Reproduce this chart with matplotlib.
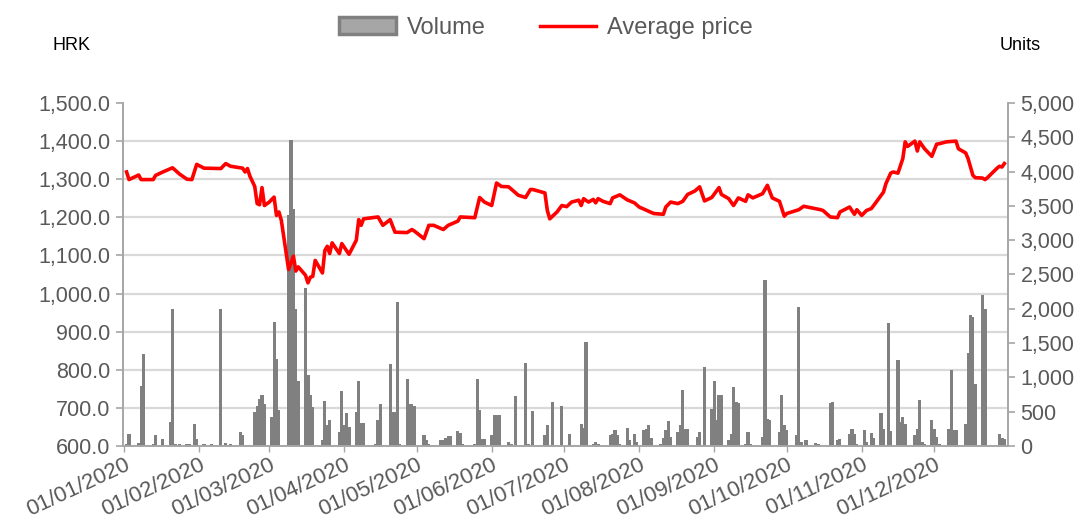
import matplotlib
matplotlib.use("Agg")
import matplotlib.pyplot as plt
import matplotlib.dates as mdates
from matplotlib.patches import Patch
from matplotlib.lines import Line2D
from matplotlib.ticker import FixedLocator, FuncFormatter
import numpy as np
import pandas as pd

plt.rcParams["font.family"] = ["Liberation Sans", "DejaVu Sans"]

# ---- data (2020) ----
price_days = [
    "01-02", "01-03", "01-07", "01-08", "01-13", "01-14", "01-17", "01-21", "01-24", "01-27",
    "01-29", "01-31", "02-03", "02-10", "02-12", "02-14", "02-19", "02-20", "02-21", "02-22",
    "02-24", "02-25", "02-26", "02-27", "02-28", "03-01", "03-03", "03-04", "03-05", "03-06",
    "03-09", "03-11", "03-12", "03-13", "03-16", "03-17", "03-18", "03-19", "03-20", "03-23",
    "03-24", "03-25", "03-26", "03-27", "03-30", "03-31", "04-03", "04-06", "04-07", "04-08",
    "04-09", "04-15", "04-17", "04-20", "04-22", "04-27", "04-29", "04-30", "05-04", "05-06",
    "05-08", "05-12", "05-14", "05-18", "05-19", "05-25", "05-27", "05-29", "06-01", "06-03",
    "06-05", "06-08", "06-10", "06-12", "06-15", "06-17", "06-18", "06-23", "06-24", "06-25",
    "06-28", "06-30", "07-02", "07-04", "07-07", "07-08", "07-09", "07-11", "07-13", "07-14",
    "07-15", "07-17", "07-20", "07-21", "07-24", "07-27", "07-30", "08-01", "08-07", "08-11",
    "08-12", "08-14", "08-17", "08-19", "08-21", "08-24", "08-26", "08-28", "08-31", "09-03",
    "09-04", "09-07", "09-09", "09-11", "09-14", "09-15", "09-17", "09-21", "09-23", "09-25",
    "09-28", "09-30", "10-01", "10-03", "10-06", "10-08", "10-15", "10-16", "10-19", "10-22",
    "10-23", "10-27", "10-29", "10-30", "11-01", "11-03", "11-05", "11-07", "11-10", "11-11",
    "11-13", "11-14", "11-16", "11-18", "11-19", "11-20", "11-23", "11-24", "11-25", "11-27",
    "11-30", "12-02", "12-03", "12-06", "12-10", "12-11", "12-14", "12-15", "12-17", "12-18",
    "12-21", "12-22", "12-23", "12-27", "12-28", "12-29", "12-30",
]
avg_price = [
    1319, 1299, 1311, 1299, 1299, 1310, 1319, 1330, 1313, 1300,
    1299, 1339, 1329, 1328, 1341, 1334, 1329, 1319, 1328, 1308,
    1281, 1236, 1233, 1278, 1231, 1240, 1253, 1205, 1214, 1192,
    1063, 1098, 1059, 1070, 1048, 1028, 1043, 1045, 1087, 1054,
    1113, 1124, 1105, 1133, 1105, 1131, 1103, 1140, 1194, 1179,
    1196, 1201, 1179, 1194, 1161, 1160, 1168, 1164, 1144, 1179,
    1179, 1168, 1179, 1190, 1201, 1199, 1252, 1240, 1231, 1290,
    1281, 1280, 1269, 1258, 1252, 1273, 1273, 1264, 1218, 1196,
    1214, 1231, 1228, 1240, 1245, 1231, 1249, 1240, 1247, 1238,
    1249, 1242, 1236, 1251, 1259, 1246, 1238, 1227, 1210, 1208,
    1227, 1240, 1236, 1242, 1260, 1269, 1280, 1243, 1252, 1278,
    1260, 1249, 1231, 1251, 1242, 1259, 1251, 1262, 1284, 1251,
    1242, 1203, 1210, 1214, 1220, 1229, 1220, 1218, 1201, 1199,
    1214, 1227, 1208, 1220, 1205, 1218, 1223, 1240, 1266, 1288,
    1316, 1319, 1316, 1354, 1398, 1386, 1400, 1374, 1398, 1380,
    1360, 1392, 1393, 1398, 1400, 1380, 1369, 1354, 1310, 1304,
    1303, 1299, 1304, 1329, 1334, 1332, 1341,
]

volume_days = [
    "01-02", "01-03", "01-07", "01-08", "01-09", "01-13", "01-14", "01-17", "01-20", "01-21",
    "01-22", "01-24", "01-27", "01-28", "01-30", "01-31", "02-03", "02-06", "02-07", "02-10",
    "02-12", "02-14", "02-18", "02-19", "02-24", "02-25", "02-26", "02-27", "02-28", "03-02",
    "03-03", "03-04", "03-05", "03-09", "03-10", "03-11", "03-12", "03-13", "03-16", "03-17",
    "03-18", "03-19", "03-23", "03-24", "03-25", "03-26", "03-30", "03-31", "04-01", "04-02",
    "04-03", "04-06", "04-07", "04-08", "04-09", "04-14", "04-15", "04-16", "04-20", "04-21",
    "04-22", "04-23", "04-24", "04-27", "04-28", "04-29", "04-30", "05-04", "05-05", "05-06",
    "05-07", "05-11", "05-12", "05-13", "05-14", "05-15", "05-18", "05-19", "05-20", "05-25",
    "05-26", "05-27", "05-28", "05-29", "06-01", "06-02", "06-03", "06-04", "06-08", "06-09",
    "06-11", "06-15", "06-16", "06-18", "06-23", "06-24", "06-26", "06-30", "07-03", "07-08",
    "07-09", "07-10", "07-13", "07-14", "07-15", "07-20", "07-21", "07-22", "07-23", "07-24",
    "07-27", "07-28", "07-30", "07-31", "08-03", "08-04", "08-05", "08-06", "08-10", "08-11",
    "08-12", "08-13", "08-14", "08-17", "08-18", "08-19", "08-20", "08-21", "08-25", "08-26",
    "08-28", "08-31", "09-01", "09-02", "09-03", "09-04", "09-07", "09-08", "09-09", "09-10",
    "09-11", "09-14", "09-15", "09-16", "09-21", "09-22", "09-23", "09-24", "09-28", "09-29",
    "09-30", "10-01", "10-05", "10-06", "10-07", "10-09", "10-13", "10-14", "10-19", "10-20",
    "10-22", "10-23", "10-27", "10-28", "10-29", "10-30", "11-02", "11-03", "11-05", "11-06",
    "11-09", "11-10", "11-12", "11-13", "11-16", "11-17", "11-18", "11-19", "11-23", "11-24",
    "11-25", "11-26", "11-27", "11-30", "12-01", "12-02", "12-03", "12-07", "12-08", "12-09",
    "12-10", "12-14", "12-15", "12-16", "12-17", "12-18", "12-21", "12-22", "12-28", "12-29",
    "12-30",
]
volume = [
    35, 180, 45, 870, 1346, 35, 155, 107, 350, 2002,
    35, 35, 30, 30, 325, 107, 30, 30, 20, 2002,
    49, 24, 204, 165, 496, 578, 690, 739, 607, 423,
    1808, 1273, 530, 3362, 4465, 3460, 2002, 943, 2308, 1030,
    748, 568, 83, 656, 300, 384, 204, 802, 301, 481,
    277, 496, 943, 335, 335, 24, 374, 607, 1190, 496,
    496, 2099, 34, 981, 607, 607, 578, 165, 83, 34,
    20, 83, 92, 117, 141, 146, 214, 194, 24, 34,
    981, 520, 107, 107, 165, 447, 447, 447, 58, 24,
    724, 1215, 34, 510, 155, 301, 641, 578, 170, 325,
    267, 1516, 34, 58, 34, 165, 180, 228, 155, 34,
    267, 83, 180, 58, 228, 253, 301, 121, 34, 121,
    228, 364, 131, 204, 301, 811, 253, 253, 131, 204,
    1145, 544, 943, 384, 748, 748, 83, 180, 860, 641,
    632, 34, 204, 34, 131, 2415, 398, 374, 204, 739,
    301, 228, 155, 2026, 58, 92, 44, 24, 627, 641,
    92, 107, 180, 253, 180, 34, 238, 58, 194, 117,
    486, 253, 1793, 219, 1249, 350, 423, 316, 155, 253,
    675, 58, 34, 374, 253, 131, 34, 253, 1115, 228,
    228, 325, 1356, 1905, 1880, 909, 2196, 2002, 180, 117,
    107,
]

price_x = pd.to_datetime(["2020-" + d for d in price_days])
vol_x = pd.to_datetime(["2020-" + d for d in volume_days])
month_ticks = pd.date_range("2020-01-01", periods=12, freq="MS")

TXT = "#595959"
AXIS = "#A6A6A6"

fig = plt.figure(figsize=(10.89, 5.22), dpi=100)
ax_vol = fig.add_axes([0.1129, 0.1456, 0.8127, 0.6571])
ax_price = ax_vol.twinx()

# volume bars (right axis)
ax_vol.bar(vol_x, volume, width=1.3, color="#808080", zorder=2)
ax_vol.set_ylim(0, 5000)
ax_vol.yaxis.tick_right()
ax_vol.yaxis.set_label_position("right")
ax_vol.set_yticks(np.arange(0, 5001, 500))
ax_vol.yaxis.set_major_formatter(FuncFormatter(lambda v, _: f"{v:,.0f}"))
# gridlines follow the price axis (9 bands)
ax_vol.yaxis.set_minor_locator(FixedLocator(np.linspace(0, 5000, 10)))
ax_vol.grid(which="minor", axis="y", color="#D9D9D9", linewidth=1.6, zorder=0)
ax_vol.set_axisbelow(True)
ax_vol.tick_params(axis="y", which="minor", length=0)
ax_vol.tick_params(axis="y", which="major", colors=AXIS, labelcolor=TXT,
                   labelsize=15.5, length=5, width=1.2, pad=4)

# price line (left axis)
ax_price.yaxis.tick_left()
ax_price.yaxis.set_label_position("left")
ax_price.plot(price_x, avg_price, color="#FF0000", linewidth=2.6, zorder=3)
ax_price.set_ylim(600, 1500)
ax_price.set_yticks(np.arange(600, 1501, 100))
ax_price.yaxis.set_major_formatter(FuncFormatter(lambda v, _: f"{v:,.1f}"))
ax_price.tick_params(axis="y", colors=AXIS, labelcolor=TXT,
                     labelsize=15.5, length=5, width=1.2, pad=4)

# date axis
x0 = mdates.date2num(pd.Timestamp("2020-01-01")) - 0.5
x1 = mdates.date2num(pd.Timestamp("2020-12-31")) + 0.5
ax_vol.set_xlim(x0, x1)
ax_vol.set_xticks(month_ticks)
ax_vol.xaxis.set_major_formatter(mdates.DateFormatter("%d/%m/%Y"))
ax_vol.tick_params(axis="x", colors=AXIS, labelcolor=TXT, labelsize=16,
                   length=4, width=1, pad=2)
for lbl in ax_vol.get_xticklabels():
    lbl.set_rotation(25)
    lbl.set_ha("right")
    lbl.set_rotation_mode("anchor")

for ax in (ax_vol, ax_price):
    ax.spines["top"].set_visible(False)
    for s in ("left", "right", "bottom"):
        ax.spines[s].set_color(AXIS)
        ax.spines[s].set_linewidth(1.2)

# legend and axis units
handles = [
    Patch(facecolor="#A6A6A6", edgecolor="#808080", linewidth=2.5),
    Line2D([0], [0], color="#FF0000", linewidth=2.5),
]
fig.legend(handles, ["Volume", "Average price"], loc="center",
           bbox_to_anchor=(546 / 1089, 1 - 28 / 522), ncol=2, frameon=False,
           fontsize=17, labelcolor=TXT, handlelength=2.4, handleheight=0.75,
           handletextpad=0.45, columnspacing=2.3)
fig.text(52 / 1089, 1 - 45 / 522, "HRK", fontsize=13, color="black", ha="left", va="center")
fig.text(1000 / 1089, 1 - 45 / 522, "Units", fontsize=13, color="black", ha="left", va="center")

fig.savefig("out.png", dpi=100)
